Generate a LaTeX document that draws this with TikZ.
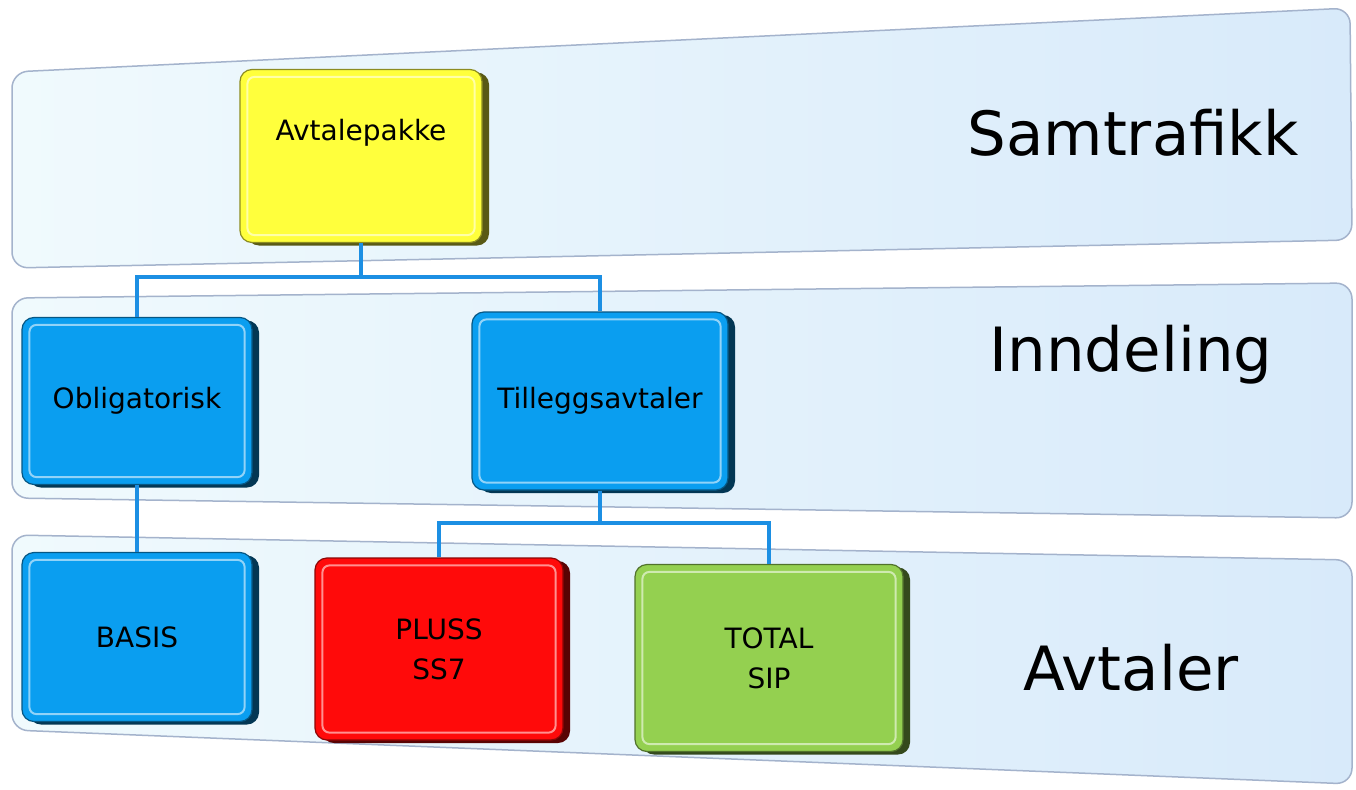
\documentclass[tikz,border=0pt]{standalone}
\usepackage{fontspec}
\setmainfont{DejaVu Sans}
\usepackage{tikz}
\usetikzlibrary{positioning}
\usetikzlibrary{shadows,calc}
\definecolor{bandleft}{HTML}{F0FAFD}
\definecolor{bandright}{HTML}{D8EAFA}
\definecolor{bandedge}{HTML}{A4B3CC}
\definecolor{linkblue}{HTML}{1C8FE3}
\definecolor{boxyellow}{HTML}{FFFF3C}
\definecolor{boxblue}{HTML}{0A9EF0}
\definecolor{boxred}{HTML}{FF0A0A}
\definecolor{boxgreen}{HTML}{94D050}
\tikzset{band/.style={rounded corners=16pt, left color=bandleft, right color=bandright, draw=bandedge, line width=1.5pt}}
\tikzset{tile/.style={rounded corners=12pt, fill=#1, draw=#1!55!black, line width=1.2pt,
  drop shadow={shadow xshift=7pt, shadow yshift=-3pt, fill=#1!35!black, opacity=1},
  font=\fontsize{28}{40}\selectfont, align=center, inner sep=0pt, text=black}}
\tikzset{bevel/.style={rounded corners=7pt, draw=#1!45!white, line width=2pt}}
\tikzset{conn/.style={draw=linkblue, line width=3.5pt}}
\tikzset{rowlabel/.style={font=\fontsize{61}{70}\selectfont}}

\begin{document}
\begin{tikzpicture}[x=1pt,y=-1pt]
\fill[white] (0,0) rectangle (1356,789);
\useasboundingbox (0,0) rectangle (1356,789);
% bands
\draw[band] (12,72) -- (1350,8) -- (1352,240) -- (12,268) -- cycle;
\draw[band] (12,298) -- (1352,283) -- (1352,518) -- (12,498) -- cycle;
\draw[band] (12,535) -- (1352,560) -- (1352,784) -- (12,730) -- cycle;
\node[rowlabel] (samtrafikk) at (1133,133) {Samtrafikk};
\node[rowlabel] (inndeling) at (1131,355) {Inndeling};
\node[rowlabel] (avtaler) at (1131,668) {Avtaler};
% tiles
\node[tile=boxyellow, minimum width=242pt, minimum height=173pt,
  label={[font=\fontsize{28}{32}\selectfont, yshift=23pt]center:Avtalepakke}] (avtalepakke) at (361,156) {};
\node[tile=boxblue, minimum width=230pt, minimum height=167pt] (oblig) at (137,401) {Obligatorisk};
\node[tile=boxblue, minimum width=256pt, minimum height=178pt] (tillegg) at (600,401) {Tilleggsavtaler};
\node[tile=boxblue, minimum width=230pt, minimum height=169pt] (basis) at (137,637) {BASIS};
\node[tile=boxred, minimum width=248pt, minimum height=182pt] (pluss) at (439,649) {PLUSS\\SS7};
\node[tile=boxgreen, minimum width=268pt, minimum height=187pt] (total) at (769,658) {TOTAL\\SIP};
\foreach \n/\c in {avtalepakke/boxyellow, oblig/boxblue, tillegg/boxblue, basis/boxblue, pluss/boxred, total/boxgreen}
  \draw[bevel=\c] ($(\n.north west)+(8,8)$) rectangle ($(\n.south east)+(-8,-8)$);
% links
\coordinate (split1) at (361,277);
\coordinate (split2) at (600,523);
\draw[conn] (avtalepakke.south) -- (split1);
\draw[conn] (oblig.north) |- (split1) -| (tillegg.north);
\draw[conn] (oblig.south) -- (basis.north);
\draw[conn] (tillegg.south) -- (split2);
\draw[conn] (pluss.north) |- (split2) -| (total.north);
\end{tikzpicture}
\end{document}
